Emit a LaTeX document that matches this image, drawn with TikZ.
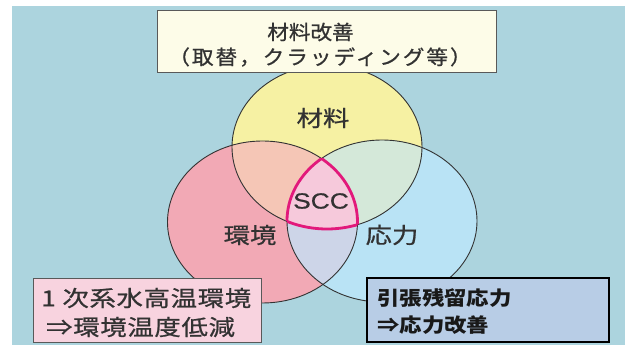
\documentclass[tikz,border=0pt]{standalone}
\usepackage{fontspec}
\newfontfamily\jpTop[FakeStretch=1.08,FakeBold=0.8]{Noto Sans CJK JP}
\newfontfamily\jpTopB[FakeStretch=1.08,LetterSpace=10,FakeBold=0.8]{Noto Sans CJK JP}
\newfontfamily\jpLab[FakeStretch=1.2,FakeBold=0.8]{Noto Sans CJK JP}
\newfontfamily\jpLeft[FakeStretch=1.2,LetterSpace=3,FakeBold=0.8]{Noto Sans CJK JP}
\newfontfamily\jpRight[FakeStretch=1.15]{Noto Sans CJK JP}
\newfontfamily\sccfont[FakeStretch=1.2,FakeBold=0.5]{Liberation Sans}
\definecolor{bgblue}{RGB}{172,212,222}
\definecolor{cyel}{RGB}{246,241,163}
\definecolor{cpink}{RGB}{242,169,181}
\definecolor{cblue}{RGB}{185,227,245}
\definecolor{cyp}{RGB}{245,198,182}
\definecolor{cyb}{RGB}{212,232,217}
\definecolor{cpb}{RGB}{205,213,232}
\definecolor{ctri}{RGB}{246,201,219}
\definecolor{cmag}{RGB}{226,25,123}
\definecolor{topfill}{RGB}{253,252,232}
\definecolor{leftfill}{RGB}{248,211,223}
\definecolor{rightfill}{RGB}{184,205,230}
\definecolor{ctext}{RGB}{50,50,50}
\tikzset{
  ring/.style={draw=black!80, line width=0.9pt},
  boxA/.style={draw=black!65, line width=0.9pt, inner sep=0pt},
  txt/.style={inner sep=0pt, text=ctext},
}
\begin{document}
\begin{tikzpicture}[x=1pt,y=1pt]
\useasboundingbox (0,0) rectangle (625,345);
\fill[white] (0,0) rectangle (625,345);
\fill[bgblue] (12,0) rectangle (625,339);
\coordinate (Yc) at (327,198);
\coordinate (Pc) at (262.5,123);
\coordinate (Bc) at (382,124);
% base fills
\fill[cyel] (Yc) ellipse (95pt and 82pt);
\fill[cpink] (Pc) ellipse (95pt and 81pt);
\fill[cblue] (Bc) ellipse (95pt and 81pt);
% pairwise overlaps
\begin{scope}
  \clip (Yc) ellipse (95pt and 82pt);
  \fill[cyp] (Pc) ellipse (95pt and 81pt);
  \fill[cyb] (Bc) ellipse (95pt and 81pt);
\end{scope}
\begin{scope}
  \clip (Pc) ellipse (95pt and 81pt);
  \fill[cpb] (Bc) ellipse (95pt and 81pt);
\end{scope}
\begin{scope}
  \clip (Yc) ellipse (95pt and 82pt);
  \clip (Pc) ellipse (95pt and 81pt);
  \fill[ctri] (Bc) ellipse (95pt and 81pt);
\end{scope}
% outlines
\draw[ring] (Yc) ellipse (95pt and 82pt);
\draw[ring] (Pc) ellipse (95pt and 81pt);
\draw[ring] (Bc) ellipse (95pt and 81pt);
% magenta outline of triple intersection
\begin{scope}
  \clip (Yc) ellipse (95pt and 82pt);
  \clip (Pc) ellipse (95pt and 81pt);
  \draw[cmag, line width=2.8pt] (Bc) ellipse (95pt and 81pt);
\end{scope}
\begin{scope}
  \clip (Yc) ellipse (95pt and 82pt);
  \clip (Bc) ellipse (95pt and 81pt);
  \draw[cmag, line width=2.8pt] (Pc) ellipse (95pt and 81pt);
\end{scope}
\begin{scope}
  \clip (Pc) ellipse (95pt and 81pt);
  \clip (Bc) ellipse (95pt and 81pt);
  \draw[cmag, line width=2.8pt] (Yc) ellipse (95pt and 82pt);
\end{scope}
% labels in circles
\node[txt, font=\jpLab\fontsize{22}{24}\selectfont] (lzai) at (323,227) {材料};
\node[txt, font=\jpLab\fontsize{22}{24}\selectfont] (lkan) at (250,110) {環境};
\node[txt, font=\jpLab\fontsize{22}{24}\selectfont] (louryoku) at (392,110) {応力};
\node[txt, font=\sccfont\fontsize{22}{24}\selectfont] (lscc) at (321,144) {SCC};
% top box
\node[boxA, fill=topfill, minimum width=339pt, minimum height=62pt] (tb) at (326.5,304) {};
\node[txt, font=\jpTop\fontsize{20}{22}\selectfont] (tb1) at (310.5,313) {材料改善};
\node[txt, font=\jpTopB\fontsize{20}{22}\selectfont] (tb2) at (320,288) {（取替，クラッディング等）};
% left box
\node[boxA, fill=leftfill, minimum width=228pt, minimum height=64pt] (lb) at (147,35) {};
\node[txt, anchor=west, font=\jpLeft\fontsize{22}{24}\selectfont] (lb1) at (41,47) {1 次系水高温環境};
\node[txt, anchor=west, font=\jpLeft\fontsize{22}{24}\selectfont] (lb2) at (46,18) {⇒環境温度低減};
% right box
\node[draw=black, line width=1.3pt, inner sep=0pt, fill=rightfill, minimum width=242pt, minimum height=64pt] (rb) at (488,35) {};
\node[inner sep=0pt, anchor=west, text=black!90, font=\jpRight\bfseries\fontsize{19.5}{22}\selectfont] (rb1) at (377,47) {引張残留応力};
\node[inner sep=0pt, anchor=west, text=black!90, font=\jpRight\bfseries\fontsize{19.5}{22}\selectfont] (rb2) at (377,20) {⇒応力改善};
\end{tikzpicture}
\end{document}
